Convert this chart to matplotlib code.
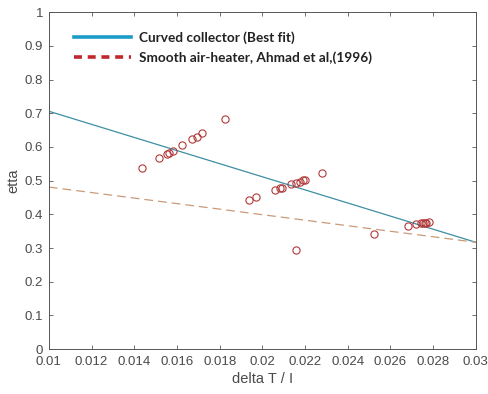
import matplotlib
matplotlib.use('Agg')
import matplotlib.pyplot as plt
from matplotlib.lines import Line2D
import numpy as np

plt.rcParams['font.family'] = ['Liberation Sans', 'DejaVu Sans']

# measured efficiency vs reduced temperature parameter
dT_I = [0.01438, 0.01518, 0.01554, 0.01562, 0.01582, 0.01624, 0.01671, 0.01693,
        0.01716, 0.01825, 0.01936, 0.01970, 0.02059, 0.02083, 0.02090, 0.02136,
        0.02159, 0.02176, 0.02192, 0.02201, 0.02281, 0.02159, 0.02523, 0.02682,
        0.02722, 0.02741, 0.02754, 0.02763, 0.02769, 0.02782]
etta = [0.537, 0.566, 0.580, 0.581, 0.589, 0.606, 0.625, 0.631,
        0.641, 0.682, 0.443, 0.451, 0.472, 0.477, 0.478, 0.489,
        0.493, 0.497, 0.501, 0.502, 0.523, 0.293, 0.343, 0.364,
        0.372, 0.373, 0.373, 0.374, 0.375, 0.378]

# straight lines given by end points
fit_x = [0.01, 0.03]
fit_curved = [0.706, 0.317]
fit_smooth = [0.481, 0.317]

xticks = [0.01, 0.012, 0.014, 0.016, 0.018, 0.02, 0.022, 0.024, 0.026, 0.028, 0.03]
xticklabels = ['0.01', '0.012', '0.014', '0.016', '0.018', '0.02', '0.022',
               '0.024', '0.026', '0.028', '0.03']
yticks = [0, 0.1, 0.2, 0.3, 0.4, 0.5, 0.6, 0.7, 0.8, 0.9, 1]
yticklabels = ['0', '0.1', '0.2', '0.3', '0.4', '0.5', '0.6', '0.7', '0.8', '0.9', '1']

fig = plt.figure(figsize=(4.89, 3.94), dpi=100)
ax = fig.add_axes([0.100, 0.114, 0.873, 0.855])

ax.plot(fit_x, fit_curved, color='#3d8fa3', linewidth=0.9)
ax.plot(fit_x, fit_smooth, color='#c99a78', linewidth=0.9, linestyle=(0, (7, 4)))
ax.plot(dT_I, etta, linestyle='none', marker='o', markersize=5.2,
        markerfacecolor='none', markeredgecolor='#b03a3a', markeredgewidth=0.8)

ax.set_xlim(0.01, 0.03)
ax.set_ylim(0, 1)
ax.set_xticks(xticks)
ax.set_xticklabels(xticklabels)
ax.set_yticks(yticks)
ax.set_yticklabels(yticklabels)
ax.tick_params(direction='in', top=True, right=True, length=3, width=0.6,
               labelsize=9.5, colors='#555555', labelcolor='#4a4a4a')
ax.tick_params(axis='x', pad=5)
ax.tick_params(axis='y', pad=4)
for s in ax.spines.values():
    s.set_color('#555555')
    s.set_linewidth(0.7)

ax.set_xlabel('delta T / I', fontsize=10.5, color='#4a4a4a', labelpad=3)
ax.set_ylabel('etta', fontsize=10.5, color='#4a4a4a', labelpad=3)

handles = [Line2D([], [], color='#1d9cc8', linewidth=2.6),
           Line2D([], [], color='#c0282d', linewidth=2.6, linestyle=(0, (2.2, 1.6)))]
ax.legend(handles, ['Curved collector (Best fit)',
                    'Smooth air-heater, Ahmad et al,(1996)'],
          loc='upper left', bbox_to_anchor=(0.03, 0.98), frameon=False,
          prop={'family': 'Lato', 'weight': 'bold', 'size': 9.8},
          handlelength=4.2, handletextpad=0.6, labelspacing=0.55, labelcolor='#222222')

fig.savefig('out.png', dpi=100)
